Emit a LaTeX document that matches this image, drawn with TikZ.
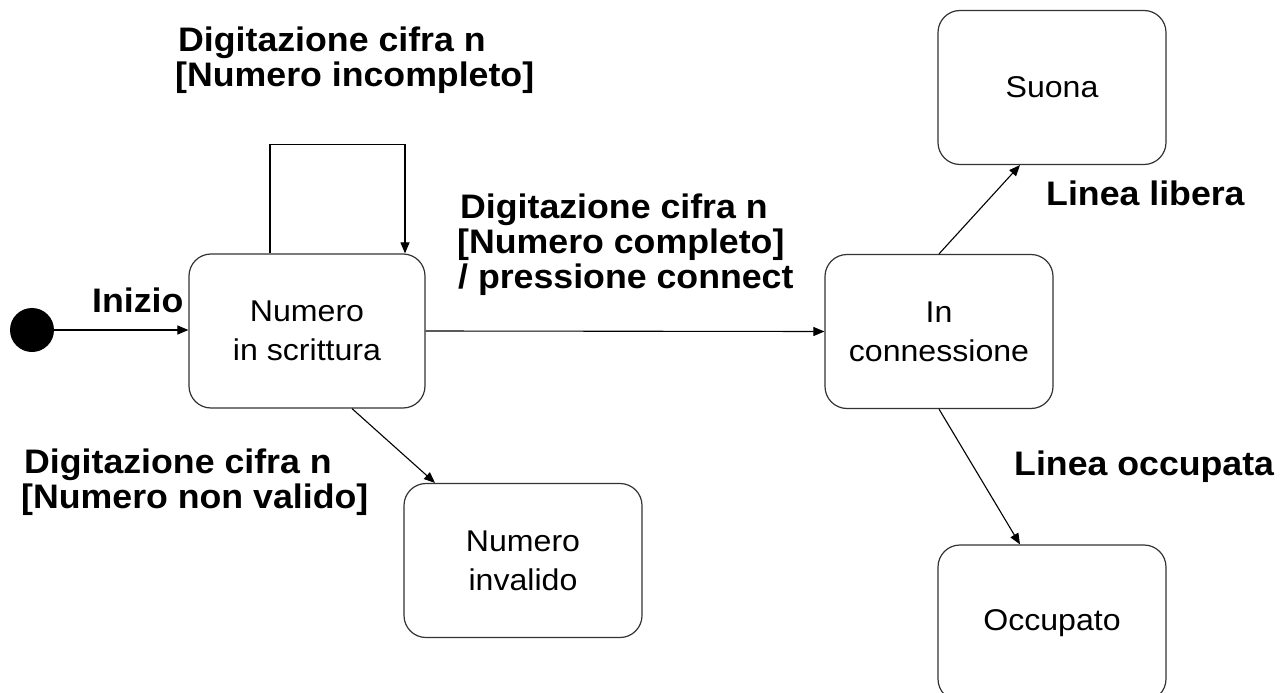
\documentclass[tikz,border=0pt]{standalone}
\usepackage{fontspec}
\setmainfont{Liberation Sans}
\newfontfamily\labfont[FakeStretch=1.05]{Liberation Sans}
\newfontfamily\boxfont[FakeStretch=1.07]{Liberation Sans}
\usetikzlibrary{arrows.meta,calc}
\begin{document}
\begin{tikzpicture}[x=1pt,y=-1pt,
  statebox/.style={draw=black!80,line width=1.2pt,rounded corners=22pt,
    minimum width=228pt,minimum height=154pt,align=center,inner sep=0pt,
    font=\boxfont\fontsize{30}{39}\selectfont},
  lab/.style={anchor=base west,inner sep=0pt,
    font=\labfont\bfseries\fontsize{34}{35}\selectfont},
  conn/.style={line width=1.1pt,-{Triangle[length=11pt,width=9pt]}}]
\useasboundingbox (0,0) rectangle (1286,693);
\fill[white] (0,0) rectangle (1286,693);
\node[circle,fill=black,minimum size=44pt,inner sep=0pt] (init) at (32,330) {};
\node[statebox,minimum width=236pt] (nis) at (307,331) {Numero\\in scrittura};
\node[statebox] (inc) at (939,331.5) {In\\connessione};
\node[statebox] (suona) at (1052,87.5) {Suona};
\node[statebox,minimum height=156pt] (occ) at (1052,623) {Occupato};
\node[statebox,minimum width=238pt] (inv) at (523,560.5) {Numero\\invalido};
% labels
\node[lab] (t1) at (178,52) {Digitazione cifra n};
\node[lab] (t2) at (175,87) {[Numero incompleto]};
\node[lab] (m1) at (460,218) {Digitazione cifra n};
\node[lab] (m2) at (457,253) {[Numero completo]};
\node[lab] (m3) at (458,288) {/ pressione connect};
\node[lab] (b1) at (24,473) {Digitazione cifra n};
\node[lab] (b2) at (21,508) {[Numero non valido]};
\node[lab] (iz) at (92,312) {Inizio};
\node[lab] (ll) at (1046,205) {Linea libera};
\node[lab] (lo) at (1014,475) {Linea occupata};
% connectors
\coordinate (loopA) at ($(nis.north)+(-37,0)$);
\coordinate (loopB) at ($(nis.north)+(98,0)$);
\draw[conn] (init.east) -- (nis.west |- init.east);
\draw[conn] (loopA) -- ++(0,-109) -| (loopB);
\draw[conn] (nis.east) -- (inc.west);
\draw[conn] (inc.north) -- ($(suona.south)+(-32,0)$);
\draw[conn] (inc.south) -- ($(occ.north)+(-32,0)$);
\draw[conn] ($(nis.south)+(45,0)$) -- ($(inv.north)+(-88,0)$);
\end{tikzpicture}
\end{document}
